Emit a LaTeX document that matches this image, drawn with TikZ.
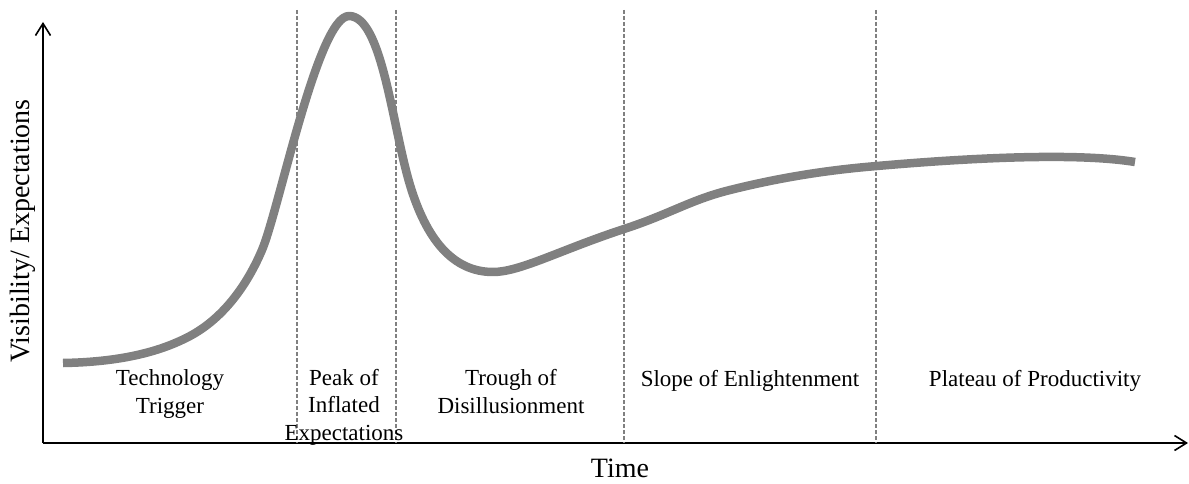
\documentclass[tikz,border=0pt]{standalone}
\usepackage{fontspec}
\setmainfont{Liberation Serif}
\usetikzlibrary{arrows.meta}
\definecolor{curvegray}{RGB}{128,128,128}
\definecolor{guidegray}{RGB}{128,128,128}
\begin{document}
\begin{tikzpicture}[x=1pt,y=-1pt,
  axisline/.style={line width=1.8pt,-{Straight Barb[length=12pt,width=15pt,line width=1.6pt]}},
  phaseline/.style={guidegray,line width=1.1pt,dash pattern=on 4pt off 2pt},
  hype/.style={curvegray,line width=8.5pt,line cap=butt,line join=round},
  phase/.style={font=\fontsize{23}{27.5}\selectfont,align=center,inner sep=0pt,anchor=base},
  axislabel/.style={font=\fontsize{28}{32}\selectfont,inner sep=0pt}]
  \useasboundingbox (0,0) rectangle (1189,484);

  % axes
  \coordinate (origin) at (43,443);
  \coordinate (ytip) at (43,22);
  \coordinate (xtip) at (1188,443);
  \draw[axisline] (origin) -- (ytip);
  \draw[axisline] (origin) -- (xtip);

  % phase boundaries
  \foreach \name/\xx in {b1/297,b2/396,b3/624,b4/876}{
    \coordinate (\name top) at (\xx,10);
    \coordinate (\name bot) at (\xx,443);
    \draw[phaseline] (\name top) -- (\name bot);
  }

  % hype curve, built from cubic pieces with matching tangents
  \coordinate (start) at (63,363);
  \coordinate (lift) at (190,336);
  \coordinate (rise) at (262,250);
  \coordinate (peak) at (349,16);
  \coordinate (fall) at (410,185);
  \coordinate (trough) at (493,272);
  \coordinate (climb) at (624,229);
  \coordinate (bend) at (730,190);
  \coordinate (level) at (877,166);
  \coordinate (finish) at (1135,162);
  \draw[hype] (start)
    .. controls (120,362) and (160,352) .. (lift)
    .. controls (220,320) and (245,290) .. (rise)
    .. controls (279,210) and (318,16) .. (peak)
    .. controls (382,16) and (392,125) .. (fall)
    .. controls (426,238) and (452,272) .. (trough)
    .. controls (520,272) and (560,250) .. (climb)
    .. controls (670,214) and (690,200) .. (bend)
    .. controls (790,175) and (840,169) .. (level)
    .. controls (980,157) and (1080,153) .. (finish);

  % phase names
  \node[phase] (trigger) at (170,413) {Technology\\Trigger};
  \node[phase] (peaklabel) at (344,440) {Peak of\\Inflated\\Expectations};
  \node[phase] (trough label) at (511,413) {Trough of\\Disillusionment};
  \node[phase] (slope) at (750,386) {Slope of Enlightenment};
  \node[phase] (plateau) at (1035,386) {Plateau of Productivity};

  % axis names
  \node[axislabel,rotate=90] (ylabel) at (23,231) {Visibility/ Expectations};
  \node[axislabel] (xlabel) at (620,468) {Time};
\end{tikzpicture}
\end{document}
